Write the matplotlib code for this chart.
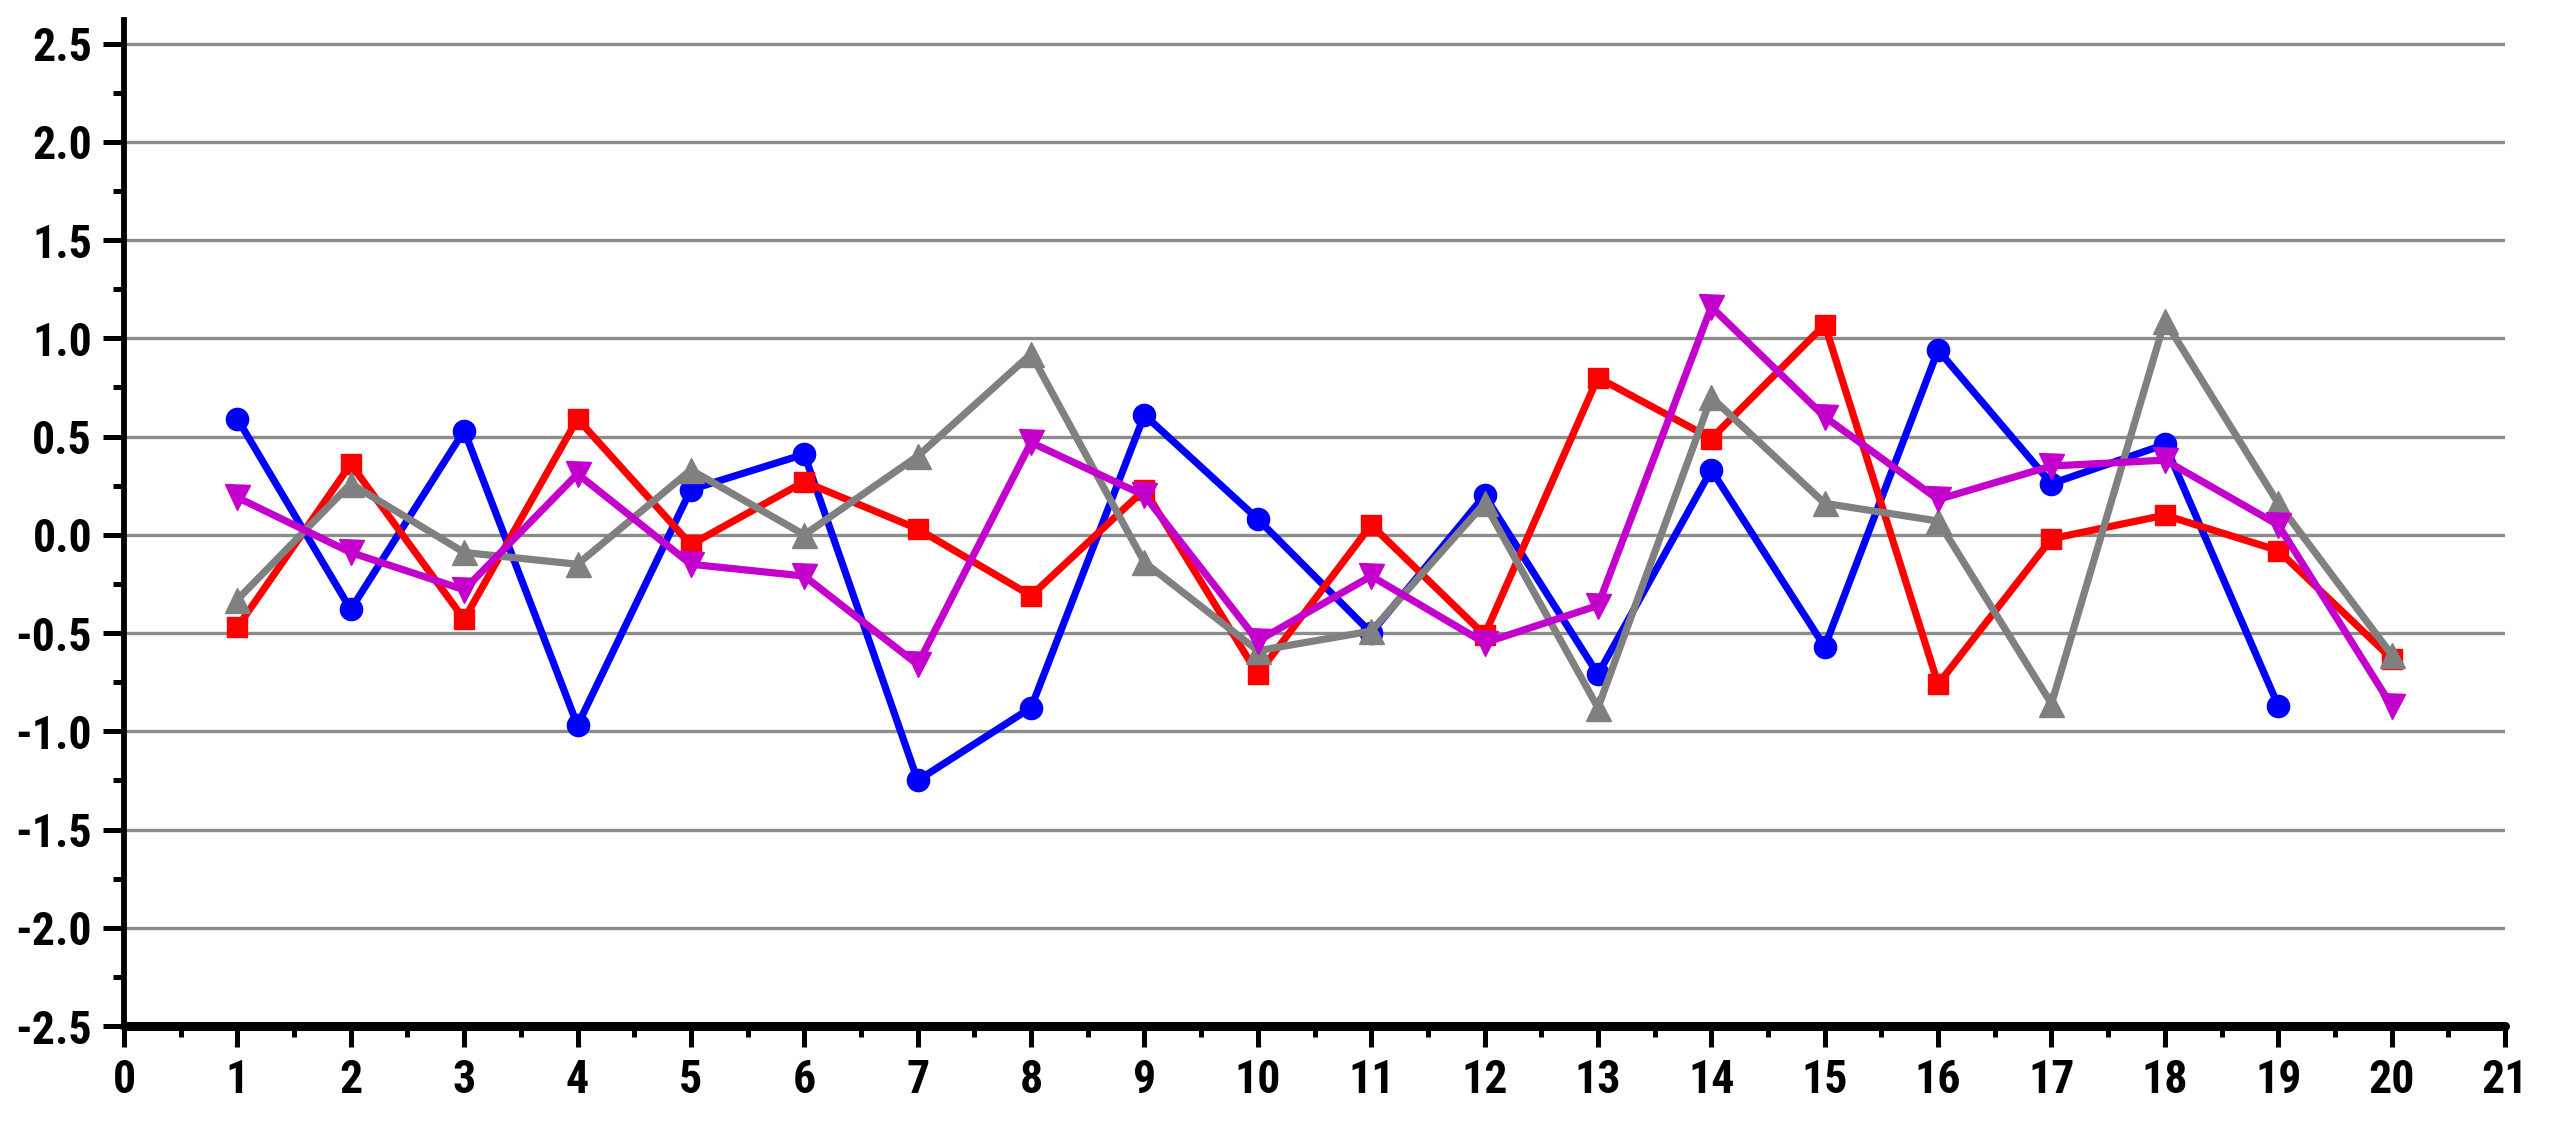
import numpy as np
import matplotlib
matplotlib.use("Agg")
import matplotlib.pyplot as plt
from matplotlib.ticker import MultipleLocator, FormatStrFormatter

# 数据: 每条曲线在 1..20 位置的取值
x_blue = list(range(1, 20))
y_blue = [0.59, -0.38, 0.53, -0.97, 0.23, 0.41, -1.25, -0.88, 0.61, 0.08,
          -0.50, 0.20, -0.71, 0.33, -0.57, 0.94, 0.26, 0.46, -0.87]

x_other = list(range(1, 21))
y_red = [-0.47, 0.36, -0.43, 0.59, -0.05, 0.27, 0.03, -0.31, 0.23, -0.71,
         0.05, -0.51, 0.80, 0.49, 1.07, -0.76, -0.02, 0.10, -0.08, -0.63]
y_gray = [-0.33, 0.26, -0.09, -0.15, 0.33, 0.00, 0.40, 0.92, -0.14, -0.59,
          -0.49, 0.16, -0.88, 0.70, 0.16, 0.07, -0.86, 1.09, 0.16, -0.61]
y_magenta = [0.19, -0.09, -0.28, 0.31, -0.15, -0.21, -0.66, 0.47, 0.20, -0.54,
             -0.21, -0.55, -0.36, 1.16, 0.60, 0.18, 0.35, 0.38, 0.05, -0.87]

plt.rcParams.update({
    "font.family": ["Roboto Condensed", "PT Sans Narrow", "DejaVu Sans"],
    "font.weight": "bold",
    "font.size": 33,
})

fig = plt.figure(figsize=(25.51, 11.22), dpi=100)
ax = fig.add_axes([124 / 2551, 1 - 1026 / 1122, (2505 - 124) / 2551, (1026 - 20) / 1122])

lw = 5.2
ax.plot(x_blue, y_blue, color="#0000FF", marker="o", lw=lw, ms=16, zorder=3)
ax.plot(x_other, y_red, color="#FF0000", marker="s", lw=lw, ms=15, zorder=4)
ax.plot(x_other, y_gray, color="#808080", marker="^", lw=lw, ms=18, zorder=5)
ax.plot(x_other, y_magenta, color="#C400CC", marker="v", lw=lw, ms=18, zorder=6)

ax.set_xlim(0, 21)
ax.set_ylim(-2.5, 2.62)
ax.xaxis.set_major_locator(MultipleLocator(1))
ax.xaxis.set_minor_locator(MultipleLocator(0.5))
ax.yaxis.set_major_locator(MultipleLocator(0.5))
ax.yaxis.set_minor_locator(MultipleLocator(0.25))
ax.yaxis.set_major_formatter(FormatStrFormatter("%.1f"))

ax.grid(True, axis="y", which="major", color="#8c8c8c", lw=2.4, zorder=1)
ax.set_axisbelow(True)

for side in ["top", "right"]:
    ax.spines[side].set_visible(False)
ax.spines["bottom"].set_linewidth(6.5)
ax.spines["left"].set_linewidth(4.2)
ax.spines["bottom"].set_capstyle("round")

ax.tick_params(axis="both", which="major", direction="out", length=15, width=3.6, pad=8)
ax.tick_params(axis="both", which="minor", direction="out", length=8, width=3.6)

fig.savefig("out.png", dpi=100)
